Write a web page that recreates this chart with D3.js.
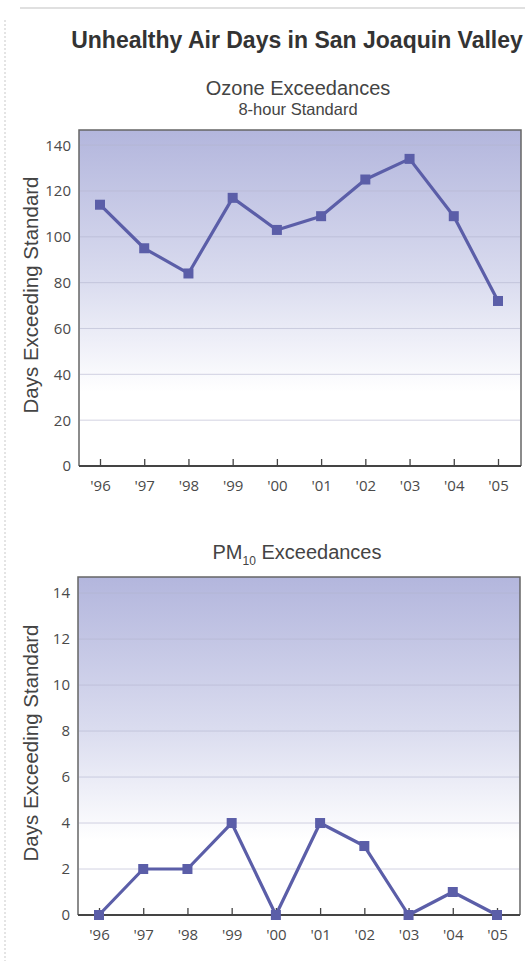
<!DOCTYPE html>
<html><head><meta charset="utf-8">
<script src="https://cdn.jsdelivr.net/npm/d3@7"></script>
<style>
html,body{margin:0;padding:0;background:#fff;}
svg{display:block;}
</style>
</head><body>
<svg id="chart" width="525" height="961"></svg>
<script>
// ---- data ----
const years = ["'96","'97","'98","'99","'00","'01","'02","'03","'04","'05"];
const ozoneDays = [114, 95, 84, 117, 103, 109, 125, 134, 109, 72];
const pm10Days = [0, 2, 2, 4, 0, 4, 3, 0, 1, 0];
const ozoneTicks = [0, 20, 40, 60, 80, 100, 120, 140];
const pm10Ticks = [0, 2, 4, 6, 8, 10, 12, 14];

const svg = d3.select("#chart");
const defs = svg.append("defs");

// page decoration
svg.append("line").attr("x1", 20).attr("x2", 525).attr("y1", 8).attr("y2", 8)
  .attr("stroke", "#d6d6d6").attr("stroke-width", 1.5);
svg.append("line").attr("x1", 5).attr("x2", 5).attr("y1", 20).attr("y2", 961)
  .attr("stroke", "#dcdcdc").attr("stroke-width", 1.5).attr("stroke-dasharray", "2,2");

svg.append("text").attr("x", 297).attr("y", 48).attr("text-anchor", "middle")
  .attr("font-family", "Liberation Sans, Arial, sans-serif").attr("font-weight", "bold")
  .attr("font-size", 23).attr("fill", "#333").text("Unhealthy Air Days in San Joaquin Valley");

function panel(cfg) {
  const {id, top, bottom, left, right, domainMax, values, ticks, xFirst, xLast} = cfg;
  const g = svg.append("g");
  const grad = defs.append("linearGradient").attr("id", id)
    .attr("x1", 0).attr("x2", 0).attr("y1", 0).attr("y2", 1);
  grad.append("stop").attr("offset", 0).attr("stop-color", "#b3b6dd");
  grad.append("stop").attr("offset", 0.45).attr("stop-color", "#dadcef");
  grad.append("stop").attr("offset", 0.78).attr("stop-color", "#ffffff");
  grad.append("stop").attr("offset", 1).attr("stop-color", "#ffffff");

  const y = d3.scaleLinear().domain([0, domainMax]).range([bottom, top]);
  const x = d3.scalePoint().domain(years).range([xFirst, xLast]);

  g.append("rect").attr("x", left).attr("y", top).attr("width", right - left)
    .attr("height", bottom - top).attr("fill", `url(#${id})`);

  // grid lines
  g.selectAll(".grid").data(ticks.filter(t => t > 0)).join("line")
    .attr("x1", left + 1).attr("x2", right - 1)
    .attr("y1", d => y(d)).attr("y2", d => y(d))
    .attr("stroke", "#b4b6cf").attr("stroke-opacity", 0.6).attr("stroke-width", 1);

  // y tick labels
  g.selectAll(".yl").data(ticks).join("text")
    .attr("x", left - 8).attr("y", d => y(d)).attr("dy", "0.36em")
    .attr("text-anchor", "end").attr("font-family", "Open Sans, sans-serif")
    .attr("font-size", 15).attr("fill", "#4a4a4a").text(d => d);

  // frame: top, left, right
  g.append("path")
    .attr("d", `M${left},${bottom}V${top}H${right}V${bottom}`)
    .attr("fill", "none").attr("stroke", "#666").attr("stroke-width", 1.5);

  // x axis
  const ax = d3.axisBottom(x).tickSizeInner(-7).tickSizeOuter(0).tickPadding(14);
  const axg = g.append("g").attr("transform", `translate(0,${bottom})`).call(ax);
  axg.select(".domain").attr("d", `M${left},0H${right}`).attr("stroke", "#444").attr("stroke-width", 1.8);
  axg.selectAll(".tick line").attr("stroke", "#444").attr("stroke-width", 1.3);
  axg.selectAll(".tick text").attr("font-family", "Open Sans, sans-serif")
    .attr("font-size", 15).attr("fill", "#4a4a4a");

  // y label
  g.append("text")
    .attr("transform", `translate(31,${(top + bottom) / 2 - 3}) rotate(-90)`)
    .attr("text-anchor", "middle").attr("dy", "0.35em")
    .attr("font-family", "Liberation Sans, Arial, sans-serif").attr("font-size", 20.5)
    .attr("fill", "#444").text("Days Exceeding Standard");

  // line
  const line = d3.line().x((d, i) => x(years[i])).y(d => y(d));
  g.append("path").datum(values).attr("d", line).attr("fill", "none")
    .attr("stroke", "#5b5ea8").attr("stroke-width", 3.2).attr("stroke-linejoin", "round");
  const s = 10;
  g.selectAll(".pt").data(values).join("rect")
    .attr("x", (d, i) => x(years[i]) - s / 2).attr("y", d => y(d) - s / 2)
    .attr("width", s).attr("height", s).attr("fill", "#5b5ea8");
}

// ozone titles
svg.append("text").attr("x", 298).attr("y", 95).attr("text-anchor", "middle")
  .attr("font-family", "Liberation Sans, Arial, sans-serif").attr("font-size", 20)
  .attr("fill", "#444").text("Ozone Exceedances");
svg.append("text").attr("x", 298).attr("y", 115).attr("text-anchor", "middle")
  .attr("font-family", "Liberation Sans, Arial, sans-serif").attr("font-size", 16.5)
  .attr("fill", "#444").text("8-hour Standard");

panel({id: "g1", top: 130, bottom: 466, left: 79, right: 521, domainMax: 146.6,
  values: ozoneDays, ticks: ozoneTicks, xFirst: 100, xLast: 498});

// PM10 title
const pt = svg.append("text").attr("x", 297).attr("y", 559).attr("text-anchor", "middle")
  .attr("font-family", "Liberation Sans, Arial, sans-serif").attr("font-size", 20)
  .attr("fill", "#444");
pt.append("tspan").text("PM");
pt.append("tspan").attr("font-size", 12).attr("dy", 6).text("10");
pt.append("tspan").attr("dy", -6).text(" Exceedances");

panel({id: "g2", top: 577, bottom: 915, left: 78, right: 520, domainMax: 14.7,
  values: pm10Days, ticks: pm10Ticks, xFirst: 99, xLast: 497});
</script>
</body></html>
